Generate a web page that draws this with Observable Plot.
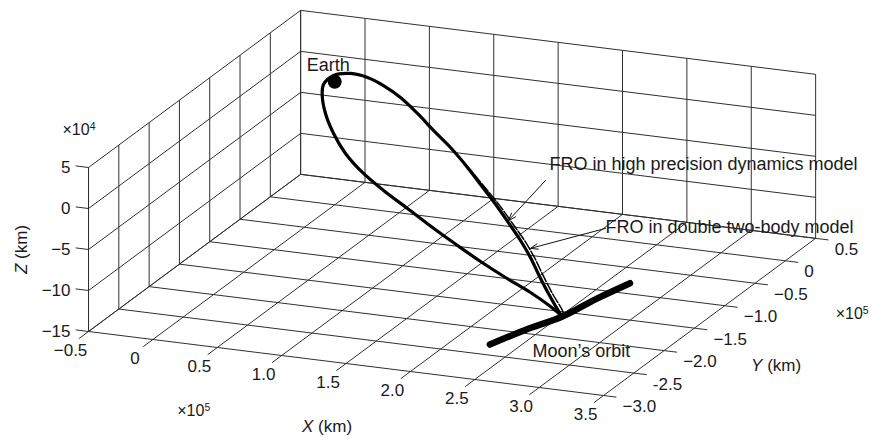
<!DOCTYPE html>
<html>
<head>
<meta charset="utf-8">
<script src="https://cdn.jsdelivr.net/npm/d3@7"></script>
<script src="https://cdn.jsdelivr.net/npm/@observablehq/plot@0.6"></script>
<style>
  html, body { margin: 0; padding: 0; background: #fff; }
  svg { display: block; }
</style>
</head>
<body>
<div id="chart"></div>
<script>
// ---------------- DATA (X, Y in 1e5 km; Z in 1e4 km) ----------------
// FRO in high precision dynamics model
const hpX = [2.887, 2.752, 2.546, 2.306, 2.059, 1.823, 1.561, 1.293, 1.037, 0.796, 0.570, 0.364, 0.178, 0.032, -0.040, -0.051, 0.024, 0.143, 0.285, 0.461, 0.666, 0.872, 1.084, 1.317, 1.508, 1.699, 1.960, 2.121, 2.295, 2.460, 2.648, 2.843, 2.887];
const hpY = [-2.375, -2.286, -2.178, -2.081, -1.968, -1.846, -1.703, -1.545, -1.397, -1.233, -1.033, -0.792, -0.530, -0.274, -0.100, 0.089, 0.209, 0.237, 0.199, 0.106, -0.048, -0.223, -0.392, -0.607, -0.798, -0.988, -1.264, -1.440, -1.646, -1.862, -2.099, -2.330, -2.375];
const hpZ = [-9.98, -9.51, -8.80, -7.97, -7.12, -6.30, -5.40, -4.47, -3.58, -2.75, -1.97, -1.26, -0.62, -0.11, 0.14, 0.18, -0.08, -0.49, -0.99, -1.59, -2.30, -3.01, -3.75, -4.55, -5.21, -5.87, -6.78, -7.33, -7.93, -8.50, -9.16, -9.83, -9.98];
// FRO in double two-body model
const tbX = [2.887, 2.752, 2.546, 2.306, 2.059, 1.823, 1.561, 1.293, 1.037, 0.796, 0.570, 0.364, 0.178, 0.032, -0.040, -0.051, 0.024, 0.143, 0.285, 0.461, 0.666, 0.872, 1.084, 1.322, 1.519, 1.715, 1.979, 2.142, 2.316, 2.481, 2.669, 2.862, 2.887];
const tbY = [-2.375, -2.286, -2.178, -2.081, -1.968, -1.846, -1.703, -1.545, -1.397, -1.233, -1.033, -0.792, -0.530, -0.274, -0.100, 0.089, 0.209, 0.237, 0.199, 0.106, -0.048, -0.223, -0.392, -0.602, -0.788, -0.972, -1.246, -1.419, -1.625, -1.841, -2.078, -2.312, -2.375];
const tbZ = [-9.98, -9.51, -8.80, -7.97, -7.12, -6.30, -5.40, -4.47, -3.58, -2.75, -1.97, -1.26, -0.62, -0.11, 0.14, 0.18, -0.08, -0.49, -0.99, -1.59, -2.30, -3.01, -3.75, -4.57, -5.25, -5.93, -6.84, -7.40, -8.00, -8.57, -9.23, -9.89, -9.98];
// Moon's orbit arc
const moonX = [2.478, 2.673, 2.887, 3.053, 3.232];
const moonY = [-2.704, -2.534, -2.375, -2.176, -1.994];
const moonZ = [-12.40, -11.17, -9.98, -8.63, -7.34];
// Earth
const earthXYZ = [0, 0, 0];
// Axes
const xTicks = [-0.5, 0, 0.5, 1.0, 1.5, 2.0, 2.5, 3.0, 3.5];
const xTickLabels = ["−0.5", "0", "0.5", "1.0", "1.5", "2.0", "2.5", "3.0", "3.5"];
const yTicks = [-3.0, -2.5, -2.0, -1.5, -1.0, -0.5, 0, 0.5];
const yTickLabels = ["−3.0", "-2.5", "−2.0", "−1.5", "−1.0", "−0.5", "0", "0.5"];
const zTicks = [-15, -10, -5, 0, 5];
const zTickLabels = ["−15", "−10", "−5", "0", "5"];

// ---------------- VIEW (orthographic projection) ----------------
const W = 872, H = 436;
const origin = [334.2, 81.3];           // where (0,0,0) lands
const eX = [128.75, 16], eY = [60.6, -44.9], eZ = [0, -8.2];
const proj = (X, Y, Z) => [origin[0] + X * eX[0] + Y * eY[0] + Z * eZ[0],
                            origin[1] + X * eX[1] + Y * eY[1] + Z * eZ[1]];
const xMin = xTicks[0], xMax = xTicks[xTicks.length - 1];
const yMin = yTicks[0], yMax = yTicks[yTicks.length - 1];
const zMin = zTicks[0], zMax = zTicks[zTicks.length - 1];

const pts = (X, Y, Z) => X.map((x, i) => { const [u, v] = proj(x, Y[i], Z[i]); return {x: u, y: v}; });
const hp = pts(hpX, hpY, hpZ);
const tb = pts(tbX, tbY, tbZ);
const moon = pts(moonX, moonY, moonZ);
const earth = (() => { const [u, v] = proj(...earthXYZ); return [{x: u, y: v}]; })();

const seg = (a, b) => { const p = proj(...a), q = proj(...b); return {x1: p[0], y1: p[1], x2: q[0], y2: q[1]}; };
const grid = [];
for (const x of xTicks) { grid.push(seg([x, yMin, zMin], [x, yMax, zMin])); grid.push(seg([x, yMax, zMin], [x, yMax, zMax])); }
for (const y of yTicks) { grid.push(seg([xMin, y, zMin], [xMax, y, zMin])); grid.push(seg([xMin, y, zMin], [xMin, y, zMax])); }
for (const z of zTicks) { grid.push(seg([xMin, yMax, z], [xMax, yMax, z])); grid.push(seg([xMin, yMin, z], [xMin, yMax, z])); }
grid.push(seg([xMin, yMin, zMin], [xMin, yMin, zMax]));
const ticks = [
  ...xTicks.map(x => seg([x, yMin, zMin], [x, yMin - 0.16, zMin])),
  ...yTicks.map(y => seg([xMax, y, zMin], [xMax + 0.1, y, zMin])),
  ...zTicks.map(z => seg([xMin, yMin, z], [xMin - 0.1, yMin, z]))
];
const at = (p, dx, dy, t) => { const [u, v] = proj(...p); return {x: u + dx, y: v + dy, t}; };
const xLab = xTicks.map((x, i) => at([x, yMin, zMin], -18, 19, xTickLabels[i]));
const yLab = yTicks.map((y, i) => at([xMax, y, zMin], 19, 11, yTickLabels[i]));
const zLab = zTicks.map((z, i) => at([xMin, yMin, z], -18, 0, zTickLabels[i]));
const expStart = [
  at([xMin, yMin, zMax], -26, -38, "×10^4"),
  at([0.5, yMin, zMin], -40, 63, "×10^5"),
  at([xMax, -1.0, zMin], 111, 8, "×10^5")
];
const axisTitles = [
  at([1.5, yMin, zMin], -19, 63, "X (km)"),
  at([xMax, -2.0, zMin], 112, 15, "Y (km)")
];
const zTitle = [at([xMin, yMin, -5], -67, 0, "Z (km)")];

// annotations (anchored to data points, offsets in px)
const hpA = [hpX[26], hpY[26], hpZ[26]];
const tbA = [tbX[28], tbY[28], tbZ[28]];
const moonA = [moonX[2], moonY[2], moonZ[2]];
const notes = [
  at(earthXYZ, -28, -11, "Earth"),
  at(hpA, 39, -56, "FRO in high precision dynamics model"),
  at(tbA, 71, -24, "FRO in double two-body model"),
  at(moonA, -30, 41, "Moon’s orbit")
];
const arrows = [
  (() => { const [u, v] = proj(...hpA); return {x1: u + 35, y1: v - 45, x2: u - 2, y2: v - 5}; })(),
  (() => { const [u, v] = proj(...tbA); return {x1: u + 71, y1: v - 29, x2: u - 4, y2: v - 9}; })()
];

const ink = "#1a1a1a";
const plot = Plot.plot({
  width: W, height: H, margin: 0,
  x: {type: "linear", domain: [0, W], range: [0, W], axis: null},
  y: {type: "linear", domain: [0, H], range: [0, H], axis: null},
  style: {fontFamily: "'Liberation Sans', Arial, Helvetica, sans-serif", background: "#fff", color: ink},
  marks: [
    Plot.link(grid, {x1: "x1", y1: "y1", x2: "x2", y2: "y2", stroke: "#303030", strokeWidth: 1}),
    Plot.link(ticks, {x1: "x1", y1: "y1", x2: "x2", y2: "y2", stroke: "#303030", strokeWidth: 1}),
    Plot.text(xLab, {x: "x", y: "y", text: "t", fontSize: 17, fill: ink}),
    Plot.text(yLab, {x: "x", y: "y", text: "t", fontSize: 17, fill: ink, textAnchor: "start"}),
    Plot.text(zLab, {x: "x", y: "y", text: "t", fontSize: 17, fill: ink, textAnchor: "end"}),
    Plot.text(expStart, {x: "x", y: "y", text: "t", fontSize: 16, fill: ink, textAnchor: "start"}),
    Plot.text(axisTitles, {x: "x", y: "y", text: "t", fontSize: 17, fill: ink}),
    Plot.text(zTitle, {x: "x", y: "y", text: "t", fontSize: 17, fill: ink, rotate: -90}),
    Plot.line(hp, {x: "x", y: "y", curve: "catmull-rom", stroke: "#000", strokeWidth: 3.2, strokeLinejoin: "round"}),
    Plot.line(tb, {x: "x", y: "y", curve: "catmull-rom", stroke: "#000", strokeWidth: 1.5, strokeDasharray: "10,2"}),
    Plot.line(moon, {x: "x", y: "y", curve: "catmull-rom", stroke: "#000", strokeWidth: 6.5, strokeLinecap: "round"}),
    Plot.dot(earth, {x: "x", y: "y", r: 7, fill: "#000"}),
    Plot.arrow(arrows, {x1: "x1", y1: "y1", x2: "x2", y2: "y2", stroke: "#111", strokeWidth: 1, headLength: 12, headAngle: 40}),
    Plot.text(notes, {x: "x", y: "y", text: "t", fontSize: 18, fill: ink, textAnchor: "start", lineAnchor: "bottom"})
  ]
});

// typographic touches: italic axis letters, superscript exponents
d3.select(plot).selectAll("text").each(function () {
  const s = this.textContent;
  const m = s.match(/^(×10)\^(\d)$/);
  if (m) {
    this.textContent = m[1];
    d3.select(this).append("tspan").attr("dy", "-0.45em").attr("font-size", "0.65em").text(m[2]);
    return;
  }
  const a = s.match(/^([XYZ])( \(km\))$/);
  if (a) {
    this.textContent = "";
    d3.select(this).append("tspan").attr("font-style", "italic").text(a[1]);
    d3.select(this).append("tspan").text(a[2]);
  }
});
document.getElementById("chart").appendChild(plot);
</script>
</body>
</html>
